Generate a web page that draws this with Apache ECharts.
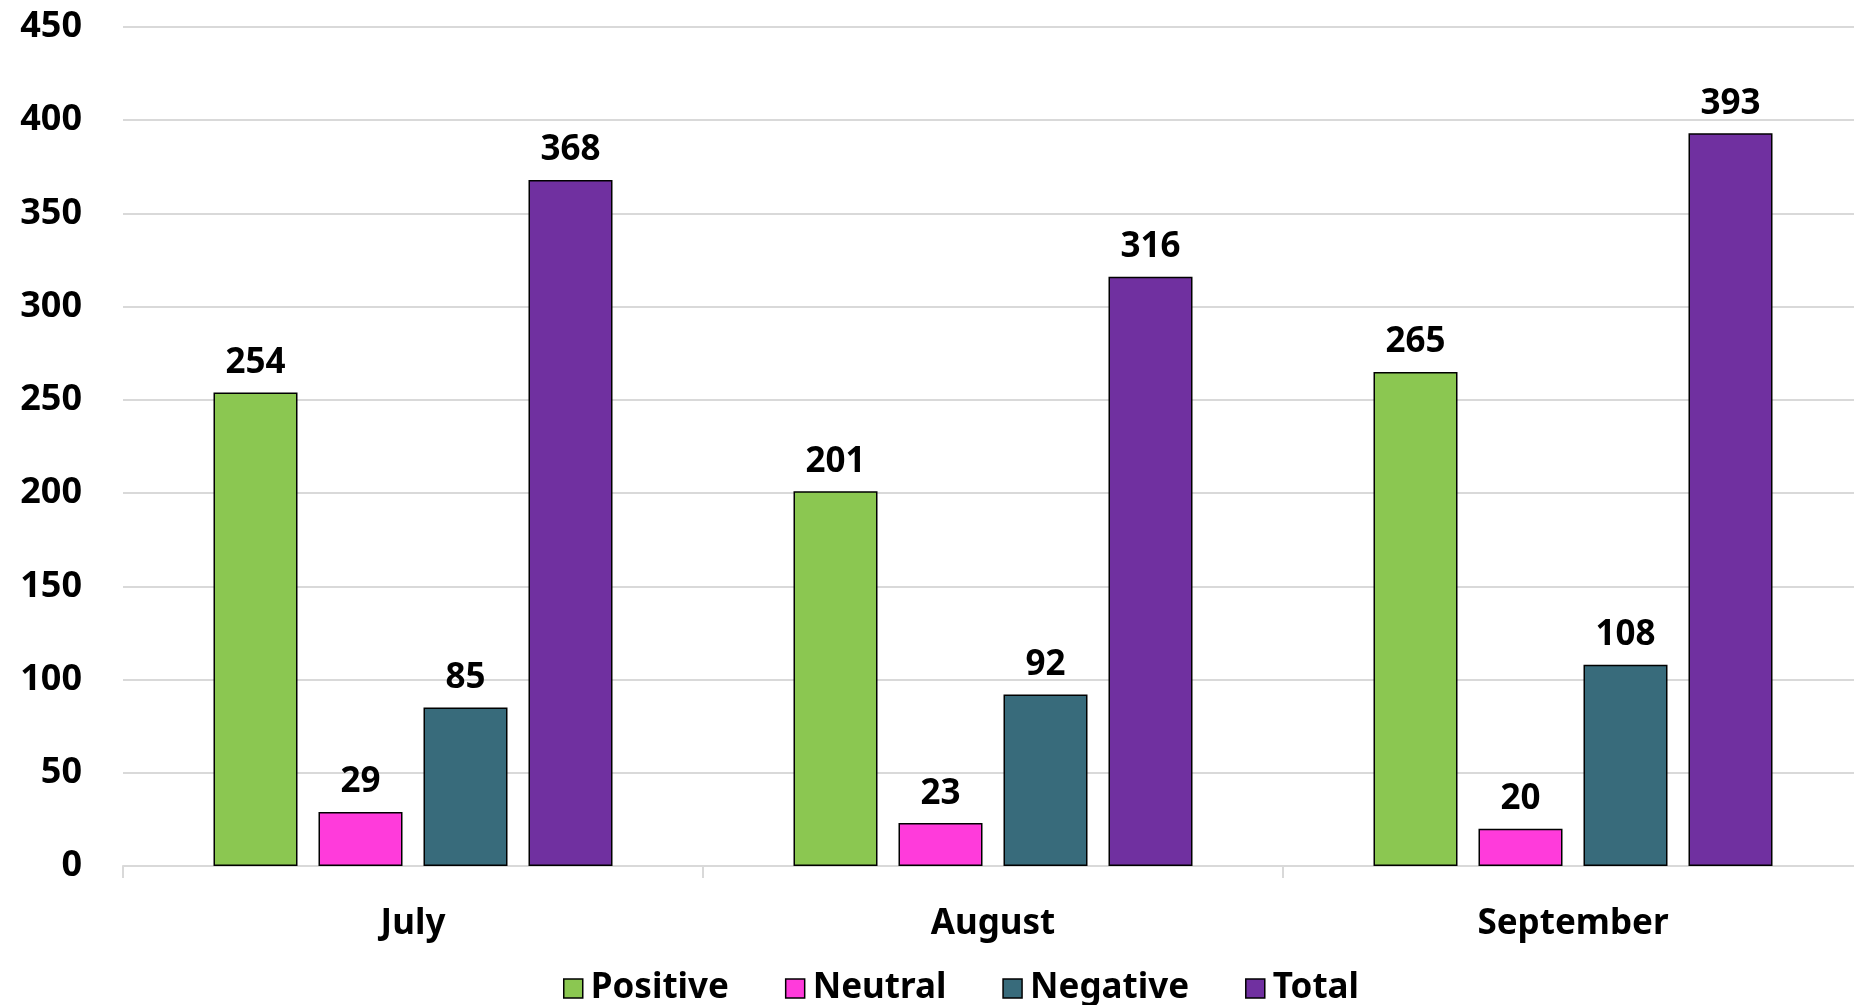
<!DOCTYPE html>
<html>
<head>
<meta charset="utf-8">
<title>Sentiment by Month</title>
<script src="https://cdn.jsdelivr.net/npm/echarts@6/dist/echarts.min.js"></script>
<style>
  html, body { margin: 0; padding: 0; background: #ffffff; }
  #chart { width: 1854px; height: 1005px; }
</style>
</head>
<body>
<div id="chart"></div>
<script>
// Monthly mention counts by sentiment
const months = ['July', 'August', 'September'];
const positive = [254, 201, 265];
const neutral = [29, 23, 20];
const negative = [85, 92, 108];
const total = [368, 316, 393];
const yTicks = [0, 50, 100, 150, 200, 250, 300, 350, 400, 450];

const FONT = '"Noto Sans", "DejaVu Sans", sans-serif';

function barSeries(name, data, color) {
  return {
    name: name,
    type: 'bar',
    data: data,
    barWidth: 84,
    barGap: '25%',
    itemStyle: { color: color, borderColor: '#000000', borderWidth: 1.5 },
    label: {
      show: true,
      position: 'top',
      distance: 12,
      color: '#000000',
      fontFamily: FONT,
      fontWeight: 'bold',
      fontSize: 35
    }
  };
}

const chart = echarts.init(document.getElementById('chart'), null, { renderer: 'canvas' });
chart.setOption({
  animation: false,
  backgroundColor: '#ffffff',
  // the plot runs slightly past the right edge of the canvas
  grid: { left: 123, right: -9, top: 27, bottom: 139, containLabel: false, outerBoundsMode: 'none' },
  legend: {
    bottom: -1,
    left: 563,
    padding: 0,
    itemWidth: 19,
    itemHeight: 19,
    itemGap: 56,
    icon: 'rect',
    itemStyle: { borderColor: '#000000', borderWidth: 1.5 },
    textStyle: { fontFamily: FONT, fontWeight: 'bold', fontSize: 35, color: '#000000', padding: [0, 0, 0, 3] },
    data: ['Positive', 'Neutral', 'Negative', 'Total']
  },
  xAxis: {
    type: 'category',
    data: months,
    axisLine: { lineStyle: { color: '#d9d9d9', width: 2 } },
    axisTick: { show: true, length: 12, lineStyle: { color: '#d9d9d9', width: 2 } },
    axisLabel: { margin: 41, color: '#000000', fontFamily: FONT, fontWeight: 'bold', fontSize: 35 }
  },
  yAxis: {
    type: 'value',
    min: yTicks[0],
    max: yTicks[yTicks.length - 1],
    interval: yTicks[1] - yTicks[0],
    axisLine: { show: false },
    axisTick: { show: false },
    splitLine: { lineStyle: { color: '#d9d9d9', width: 2 } },
    axisLabel: { margin: 41, color: '#000000', fontFamily: FONT, fontWeight: 'bold', fontSize: 36 }
  },
  series: [
    barSeries('Positive', positive, '#8bc751'),
    barSeries('Neutral', neutral, '#ff3bdb'),
    barSeries('Negative', negative, '#386b7b'),
    barSeries('Total', total, '#7030a0')
  ]
});
</script>
</body>
</html>
